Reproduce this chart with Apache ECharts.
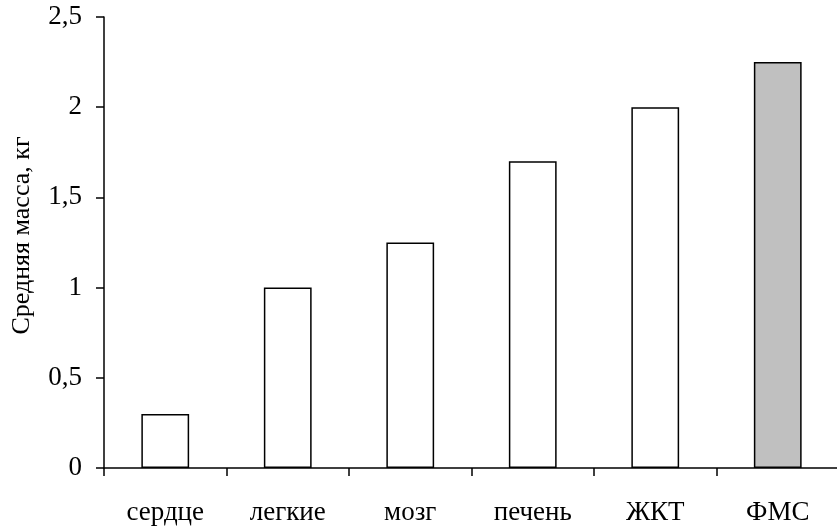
<!DOCTYPE html>
<html><head><meta charset="utf-8">
<script src="https://cdn.jsdelivr.net/npm/echarts@6/dist/echarts.min.js"></script>
<style>html,body{margin:0;padding:0;background:#fff}#c{width:837px;height:527px}</style>
</head><body><div id="c"></div>
<script>
const categories = ["сердце", "легкие", "мозг", "печень", "ЖКТ", "ФМС"];
const values = [0.3, 1.0, 1.25, 1.7, 2.0, 2.25];
const highlightIndex = 5;
const yTicks = [0, 0.5, 1, 1.5, 2, 2.5];
const yName = "Средняя масса, кг";

const font = "Liberation Serif";
const chart = echarts.init(document.getElementById('c'), null, {renderer: 'canvas'});
chart.setOption({
  animation: false,
  backgroundColor: '#fff',
  grid: {left: 104, top: 17, width: 735, height: 451, containLabel: false, outerBoundsMode: 'none'},
  xAxis: {
    type: 'category',
    data: categories,
    boundaryGap: true,
    axisLine: {lineStyle: {color: '#000', width: 1.5}},
    axisTick: {show: true, inside: false, length: 8, alignWithLabel: false, lineStyle: {color: '#000', width: 1.5}},
    axisLabel: {color: '#000', fontFamily: font, fontSize: 27, margin: 31},
    splitLine: {show: false}
  },
  yAxis: {
    type: 'value',
    min: yTicks[0], max: yTicks[yTicks.length - 1], interval: 0.5,
    name: yName,
    nameLocation: 'middle',
    nameGap: 69,
    nameRotate: 90,
    nameTextStyle: {color: '#000', fontFamily: font, fontSize: 26, padding: [0, 0, 0, 14]},
    axisLine: {show: true, lineStyle: {color: '#000', width: 1.5}},
    axisTick: {show: true, inside: false, length: 8, lineStyle: {color: '#000', width: 1.5}},
    axisLabel: {color: '#000', fontFamily: font, fontSize: 27, margin: 22,
      formatter: v => String(v).replace('.', ',')},
    splitLine: {show: false}
  },
  series: [{
    type: 'bar',
    data: values.map((v, i) => ({
      value: v,
      itemStyle: {color: i === highlightIndex ? '#c0c0c0' : '#ffffff'}
    })),
    barWidth: '39%',
    itemStyle: {borderColor: '#000', borderWidth: 1.5}
  }]
});
</script></body></html>
